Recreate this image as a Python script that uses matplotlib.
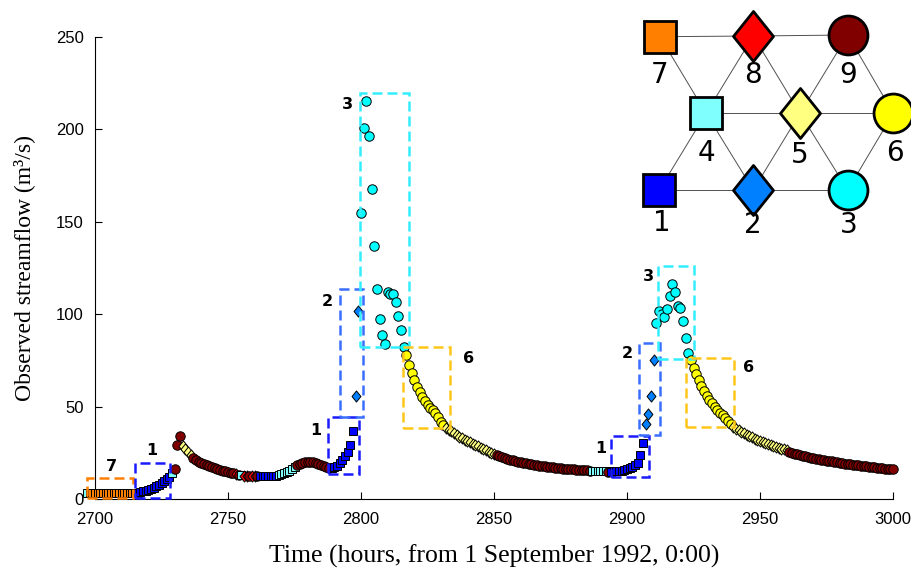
import numpy as np
import matplotlib
matplotlib.use("Agg")
import matplotlib.pyplot as plt
from matplotlib.patches import Rectangle
from matplotlib.path import Path

# hourly observed streamflow, first value at hour 2697
startHour = 2697

flowA = [3.0,
         3.0, 3.1, 3.0, 3.0, 3.1, 3.0, 3.0, 3.1, 3.0, 3.0, 3.1, 3.0, 3.0, 3.1, 3.0, 3.0, 3.1, 3.2,
         3.4, 3.7, 4.1, 4.5, 5.0, 5.6, 6.2, 6.9, 7.7, 8.6, 9.6, 10.8, 12.0,
         13.8, 16.5, 29.0, 34.0,
         28.5, 27.0, 25.5, 24.0]
runsA = [(4, 1), (7, 18), (1, 13), (4, 1), (9, 3), (5, 4)]

flowB = [22.0, 21.0, 20.2, 19.5, 18.8, 18.2, 17.6, 17.1, 16.6, 16.2, 15.8, 15.4, 15.0, 14.6, 14.2, 13.8,
         13.4, 13.1, 12.8, 12.6, 12.5, 12.4, 12.3, 12.3, 12.2,
         12.2, 12.2, 12.2, 12.3, 12.3, 12.4, 12.6,
         12.9, 13.3, 13.9, 14.6, 15.4, 16.3, 17.2,
         18.2, 19.0, 19.6, 20.0, 20.2, 20.2, 20.0, 19.7, 19.2, 18.6, 18.0, 17.4, 17.0]
runsB = [(9, 16), (8, 1), (9, 1), (4, 1), (8, 2), (9, 1), (8, 2), (9, 1), (1, 7), (4, 7), (9, 13)]

flowC = [16.8, 17.2, 18.0, 19.5, 21.0, 23.0, 25.5, 29.0, 36.6,
         56.0, 102.0,
         154.6, 200.6, 215.5, 196.6, 167.9, 137.0, 113.5, 97.6, 88.7, 83.7,
         112.2, 111.1, 110.8, 106.4, 99.0, 91.3, 82.4,
         77.9, 72.5, 68.0, 64.4, 60.8, 58.0, 55.4, 53.2, 50.9, 49.1, 48.2, 46.7, 44.2, 41.8, 40.0,
         38.5, 37.6, 36.6, 35.6, 34.6, 33.7, 32.8, 32.0, 31.3, 30.6, 29.9, 29.2, 28.5, 27.8, 27.1,
         26.4, 25.7, 25.0, 24.4]
runsC = [(1, 9), (2, 2), (3, 17), (6, 15), (5, 19)]

flowD = [23.8, 23.2, 22.7, 22.2, 21.7, 21.3, 20.9, 20.5, 20.2, 19.9, 19.6, 19.3, 19.1, 18.8, 18.6,
         18.4, 18.1, 17.9, 17.7, 17.5, 17.3, 17.1, 16.9, 16.8, 16.6, 16.5, 16.3, 16.2, 16.1, 16.0,
         15.9, 15.8, 15.7, 15.6, 15.5, 15.4,
         15.2, 15.1, 15.0, 15.0, 14.9, 14.9,
         14.8,
         14.8, 14.9, 15.0, 15.2, 15.4, 15.7, 16.1, 16.7, 17.4, 18.3, 19.4, 23.8, 30.5]
runsD = [(9, 36), (4, 6), (9, 1), (1, 13)]

flowE = [40.6, 46.0, 55.9, 75.2,
         95.4, 101.7, 100.0, 98.6, 102.6, 109.8, 116.3, 112.2, 104.4, 103.2, 96.5, 87.0, 79.2,
         75.0, 71.0, 67.5, 64.2, 61.2, 58.5, 56.0, 53.8, 51.8, 50.0, 48.4, 46.8, 45.2, 43.6, 42.0, 40.5,
         39.0, 38.1, 37.2, 36.4, 35.6, 34.8, 34.1, 33.4, 32.7, 32.0, 31.4, 30.8, 30.2, 29.6, 29.1,
         28.6, 28.1, 27.6, 27.2, 26.8, 26.4,
         25.6, 25.1, 24.6, 24.2, 23.8, 23.4, 23.0, 22.7, 22.4, 22.1, 21.8, 21.5, 21.2, 21.0, 20.7,
         20.5, 20.3, 20.0, 19.8, 19.6, 19.4, 19.2, 19.0, 18.8, 18.6, 18.4, 18.2, 18.0, 17.8, 17.6,
         17.4, 17.2, 17.1, 16.9, 16.8, 16.6, 16.5, 16.4, 16.2, 16.1]
runsE = [(2, 4), (3, 13), (6, 16), (5, 21), (9, 40)]

# dashed boxes: cluster, x0, x1, y0, y1, label x, label y
boxClusters = [7, 1, 1, 2, 3, 6, 1, 2, 3, 6]
boxX0 = [2697, 2715, 2787.7, 2792, 2799.6, 2815.9, 2893.8, 2904.5, 2911.5, 2922.2]
boxX1 = [2714.3, 2728.2, 2799.4, 2800.6, 2818.2, 2833.5, 2908.4, 2912.4, 2925.2, 2940.2]
boxY0 = [0.7, 0.4, 13.5, 44.5, 82.1, 38.2, 11.7, 34.6, 75.6, 38.8]
boxY1 = [11.5, 19.6, 44.5, 113.5, 219.5, 82.4, 34.0, 84.2, 126.0, 76.5]
labelX = [2706.3, 2721.3, 2783.1, 2787.3, 2795.0, 2840.3, 2890.1, 2900.2, 2908.0, 2945.6]
labelY = [17.5, 26.5, 36.8, 106.8, 213.6, 76.1, 27.4, 78.5, 120.3, 71.3]

nodeColors = {1: "#0000FF", 2: "#0080FF", 3: "#00FFFF", 4: "#80FFFF", 5: "#FFFF80",
              6: "#FFFF00", 7: "#FF8000", 8: "#FF0000", 9: "#800000"}
boxColors = {7: "#FF8000", 1: "#1A1AFF", 2: "#3A6EFF", 3: "#33EEFF", 6: "#FFC61A"}

diamond = Path([(0, 1), (0.8, 0), (0, -1), (-0.8, 0), (0, 1)],
               [Path.MOVETO, Path.LINETO, Path.LINETO, Path.LINETO, Path.CLOSEPOLY])
nodeMarkers = {1: "s", 4: "s", 7: "s", 2: diamond, 5: diamond, 8: diamond, 3: "o", 6: "o", 9: "o"}
smallSize = {"s": 6.3, "o": 6.8}


def expand(runs):
    out = []
    for c, n in runs:
        out += [c] * n
    return out


flow = np.array(flowA + flowB + flowC + flowD + flowE)
clusters = np.array(expand(runsA) + expand(runsB) + expand(runsC) + expand(runsD) + expand(runsE))
hours = startHour + np.arange(len(flow))
assert len(flow) == len(clusters)

fig = plt.figure(figsize=(9.12, 5.68), dpi=100)
ax = fig.add_axes([95 / 912, 69 / 568, 798 / 912, 462 / 568])

# plot runs in time order
i = 0
while i < len(flow):
    j = i
    while j < len(flow) and clusters[j] == clusters[i]:
        j += 1
    c = clusters[i]
    m = nodeMarkers[c]
    ms = 8.0 if isinstance(m, Path) else smallSize[m]
    ax.plot(hours[i:j], flow[i:j], ls="none", marker=m, ms=ms, mfc=nodeColors[c],
            mec="black", mew=0.7, clip_on=False, zorder=3)
    i = j

for k in range(len(boxClusters)):
    col = boxColors[boxClusters[k]]
    ax.add_patch(Rectangle((boxX0[k], boxY0[k]), boxX1[k] - boxX0[k], boxY1[k] - boxY0[k],
                           fill=False, ec=col, lw=1.8, ls=(0, (4, 2)), zorder=4, clip_on=False))
    ax.text(labelX[k], labelY[k], str(boxClusters[k]), fontsize=11.5, fontweight="bold",
            family="DejaVu Sans", ha="center", va="center", zorder=5)

ax.set_xlim(2700, 3000)
ax.set_ylim(0, 250)
ax.set_xticks(np.arange(2700, 3001, 50))
ax.set_yticks(np.arange(0, 251, 50))
ax.spines["top"].set_visible(False)
ax.spines["right"].set_visible(False)
ax.tick_params(direction="in", length=5, labelsize=12)
ax.tick_params(axis="y", pad=8)
ax.tick_params(axis="x", pad=9)
for lab in ax.get_xticklabels() + ax.get_yticklabels():
    lab.set_family("Liberation Sans")
ax.set_xlabel("Time (hours, from 1 September 1992, 0:00)", family="Liberation Serif",
              fontsize=18.5, labelpad=13)
ax.set_ylabel("Observed streamflow (m³/s)", family="Liberation Serif", fontsize=17, labelpad=15)

# lattice legend, drawn in pixel coordinates
ov = fig.add_axes([0, 0, 1, 1], zorder=6)
ov.set_xlim(0, 912)
ov.set_ylim(568, 0)
ov.axis("off")
ov.patch.set_alpha(0)

nodeX = {7: 660, 8: 753.3, 9: 847.7, 4: 706, 5: 800, 6: 893.3, 1: 659.3, 2: 753.3, 3: 847.7}
nodeY = {7: 36.7, 8: 36, 9: 35, 4: 113.3, 5: 113.3, 6: 113.3, 1: 190, 2: 190, 3: 190}
textX = {7: 660, 8: 753.3, 9: 848.3, 4: 706.7, 5: 800, 6: 895, 1: 661.7, 2: 753.3, 3: 848.3}
textY = {7: 75, 8: 75, 9: 75, 4: 153.3, 5: 155, 6: 153.3, 1: 223.3, 2: 225, 3: 225}
edges = [(7, 8), (8, 9), (4, 5), (5, 6), (1, 2), (2, 3), (7, 4), (4, 1), (8, 4), (8, 5),
         (9, 5), (9, 6), (4, 2), (5, 2), (5, 3), (6, 3)]
bigSize = {"s": 23, "o": 28}

for a, b in edges:
    ov.plot([nodeX[a], nodeX[b]], [nodeY[a], nodeY[b]], color="#505050", lw=0.7, zorder=1,
            clip_on=False)
for c in range(1, 10):
    m = nodeMarkers[c]
    ms = 36 if isinstance(m, Path) else bigSize[m]
    ov.plot(nodeX[c], nodeY[c], marker=m, ms=ms, mfc=nodeColors[c], mec="black", mew=2,
            ls="none", zorder=2, clip_on=False)
    ov.text(textX[c], textY[c], str(c), fontsize=20, family="DejaVu Sans", ha="center",
            va="center", zorder=3)

fig.savefig("out.png", dpi=100)
